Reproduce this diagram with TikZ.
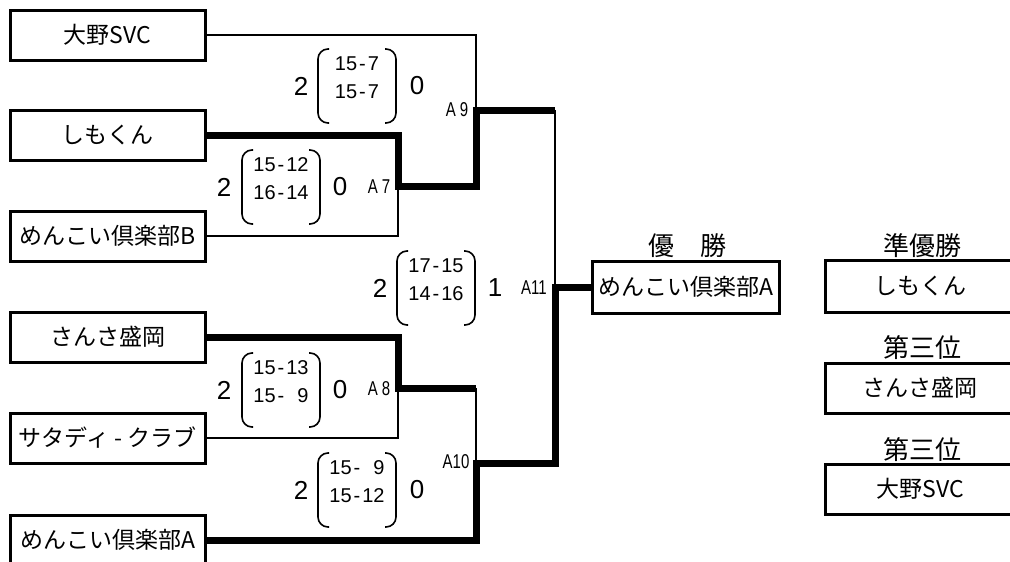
\documentclass[tikz,border=0pt]{standalone}
\usepackage{fontspec}
\setmainfont{Liberation Sans}
\newfontfamily\jp{Noto Sans CJK JP}
\newfontfamily\schmal[FakeStretch=0.75]{Liberation Sans}

\begin{document}
\begin{tikzpicture}[x=1pt, y=-1pt,
    team/.style={draw, line width=3pt, minimum width=195pt, minimum height=50pt, inner sep=0pt, font=\jp\fontsize{23}{25}\selectfont},
    titel/.style={font=\jp\fontsize{26}{28}\selectfont},
    duenn/.style={line width=2.5pt},
    dick/.style={line width=7pt},
    klammer/.style={line width=1.6pt, rounded corners=10pt},
    saetze/.style={align=center, inner sep=0pt, font=\fontsize{20}{28}\selectfont},
    punkte/.style={inner sep=0pt, font=\fontsize{26}{26}\selectfont},
    spielnr/.style={inner sep=0pt, font=\schmal\fontsize{20}{20}\selectfont}]
    \useasboundingbox (0,0) rectangle (1010,562);

    % Mannschaften links
    \node[team] (t1) at (107.5,35) {大野SVC};
    \node[team] (t2) at (107.5,135) {しもくん};
    \node[team] (t3) at (107.5,236) {めんこい倶楽部B};
    \node[team] (t4) at (107.5,337) {さんさ盛岡};
    \node[team] (t5) at (107.5,438) {サタディ - クラブ};
    \node[team] (t6) at (107.5,540) {めんこい倶楽部A};

    % Spielpunkte
    \coordinate (j7) at (398,186);
    \coordinate (j8) at (398,388);
    \coordinate (j9) at (476,110);
    \coordinate (j10) at (476,463);
    \coordinate (j11) at (555,287);

    % Sieger und Plaetze
    \node[team, minimum width=187pt, minimum height=52pt] (sieger) at (686,287) {めんこい倶楽部A};
    \node[titel] (tsieger) at (687,246) {優　勝};
    \node[team, minimum width=190pt, minimum height=52pt] (zweiter) at (920,286) {しもくん};
    \node[titel] (tzweiter) at (922,246) {準優勝};
    \node[team, minimum width=190pt] (dritter1) at (920,388) {さんさ盛岡};
    \node[titel] (tdritter1) at (922,348) {第三位};
    \node[team, minimum width=190pt] (dritter2) at (920,489) {大野SVC};
    \node[titel] (tdritter2) at (922,450) {第三位};

    % Linien
    \draw[duenn] (t1.east) -| (j9);
    \draw[duenn] (t3.east) -| (j7);
    \draw[duenn] (t5.east) -| (j8);
    \draw[duenn] (j8 -| j10) -- (j10);
    \draw[duenn] (j9 -| j11) -- (j11);
    \draw[dick] (t2.east) -| (j7) -| (j9) -- (j9 -| j11);
    \draw[dick] (t4.east) -| (j8) -- (j8 -| j10);
    \draw[dick] (sieger.west) -- (j11) |- (j10) |- (t6.east);

    % Spielnummern
    \node[spielnr] (a7) at (379,187) {A\kern4pt 7};
    \node[spielnr] (a8) at (379,389) {A\kern4pt 8};
    \node[spielnr] (a9) at (457,110) {A\kern4pt 9};
    \node[spielnr] (a10) at (456,462) {A10};
    \node[spielnr] (a11) at (534,288) {A11};

    % Ergebnis A9
    \begin{scope}[shift={(357,86)}]
        \node[punkte] (e9l) at (-56,0) {2};
        \node[saetze] (e9s) at (0,-8) {15\kern2pt-\kern2pt7\\15\kern2pt-\kern2pt7};
        \draw[klammer] (-28,-37) -| (-39,37) -- (-28,37);
        \draw[klammer] (28,-37) -| (39,37) -- (28,37);
        \node[punkte] (e9r) at (60,0) {0};
    \end{scope}
    % Ergebnis A7
    \begin{scope}[shift={(281,187)}]
        \node[punkte] (e7l) at (-57,0) {2};
        \node[saetze] (e7s) at (0,-8) {15\kern2pt-\kern2pt12\\16\kern2pt-\kern2pt14};
        \draw[klammer] (-28,-37) -| (-39,37) -- (-28,37);
        \draw[klammer] (28,-37) -| (39,37) -- (28,37);
        \node[punkte] (e7r) at (59,0) {0};
    \end{scope}
    % Ergebnis A11
    \begin{scope}[shift={(436,288)}]
        \node[punkte] (e11l) at (-56,0) {2};
        \node[saetze] (e11s) at (0,-8) {17\kern2pt-\kern2pt15\\14\kern2pt-\kern2pt16};
        \draw[klammer] (-28,-37) -| (-39,37) -- (-28,37);
        \draw[klammer] (28,-37) -| (39,37) -- (28,37);
        \node[punkte] (e11r) at (59,0) {1};
    \end{scope}
    % Ergebnis A8
    \begin{scope}[shift={(281,390)}]
        \node[punkte] (e8l) at (-57,0) {2};
        \node[saetze] (e8s) at (0,-8) {15\kern2pt-\kern2pt13\\15\kern2pt-\kern2pt\hphantom{1}9};
        \draw[klammer] (-28,-37) -| (-39,37) -- (-28,37);
        \draw[klammer] (28,-37) -| (39,37) -- (28,37);
        \node[punkte] (e8r) at (59,0) {0};
    \end{scope}
    % Ergebnis A10
    \begin{scope}[shift={(357,490)}]
        \node[punkte] (e10l) at (-56,0) {2};
        \node[saetze] (e10s) at (0,-8) {15\kern2pt-\kern2pt\hphantom{1}9\\15\kern2pt-\kern2pt12};
        \draw[klammer] (-28,-37) -| (-39,37) -- (-28,37);
        \draw[klammer] (28,-37) -| (39,37) -- (28,37);
        \node[punkte] (e10r) at (60,0) {0};
    \end{scope}
\end{tikzpicture}
\end{document}
